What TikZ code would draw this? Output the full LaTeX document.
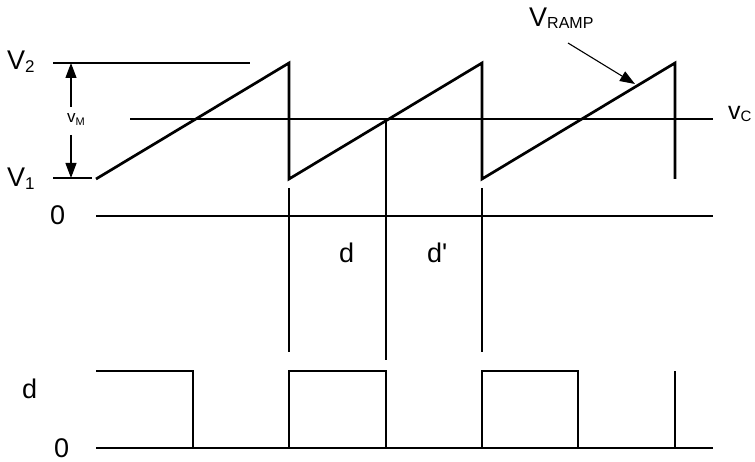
\documentclass[tikz,border=0pt]{standalone}
\usepackage{fontspec}
\setmainfont{Liberation Sans}[Ligatures=TeXOff]
\usetikzlibrary{arrows.meta}
\tikzset{
  thinln/.style={line width=1.1pt, black},
  wave/.style={line width=2.7pt, black, line join=miter, line cap=butt},
  dimarrow/.style={line width=1.1pt, -{Triangle[length=15pt,width=11pt]}},
  biglbl/.style={anchor=base west, inner sep=0pt, font=\fontsize{27}{30}\selectfont},
}
\newcommand{\subtxt}[3]{\raisebox{-#2pt}{\fontsize{#1}{#1}\selectfont #3}}
\begin{document}
\begin{tikzpicture}[x=1pt,y=-1pt]
\useasboundingbox (0,0) rectangle (755,462);
% reference levels
\coordinate (v2a) at (53,63);  \coordinate (v2b) at (250,63);
\coordinate (v1a) at (53,178); \coordinate (v1b) at (92,178);
\coordinate (vca) at (130,119); \coordinate (vcb) at (713,119);
\coordinate (z1a) at (96,216);  \coordinate (z1b) at (713,216);
\coordinate (z2a) at (96,448);  \coordinate (z2b) at (713,448);
\draw[thinln] (v2a) -- (v2b);
\draw[thinln] (v1a) -- (v1b);
\draw[thinln] (vca) -- (vcb);
\draw[thinln] (z1a) -- (z1b);
\draw[thinln] (z2a) -- (z2b);
% ramp
\draw[wave] (96,179) -- (289,63) -- (289,179) -- (482,63) -- (482,179) -- (675,63) -- (675,179);
% timing lines
\coordinate (t1a) at (289,188); \coordinate (t1b) at (289,352);
\coordinate (t2a) at (386,119); \coordinate (t2b) at (386,360);
\coordinate (t3a) at (482,188); \coordinate (t3b) at (482,352);
\draw[thinln] (t1a) -- (t1b);
\draw[thinln] (t2a) -- (t2b);
\draw[thinln] (t3a) -- (t3b);
% square wave
\draw[wave] (96,371) -- (193,371) -- (193,448) -- (289,448) -- (289,371) -- (386,371) -- (386,448) -- (482,448) -- (482,371) -- (578,371) -- (578,448) -- (675,448) -- (675,371);
% labels
\node[biglbl] (lv2) at (7,70) {V\subtxt{17}{3}{2}};
\node[biglbl] (lv1) at (7,187) {V\subtxt{17}{3}{1}};
\node[biglbl] (l0a) at (50,225) {0};
\node[biglbl] (l0b) at (54,457) {0};
\node[biglbl] (ld) at (22,398) {d};
\node[biglbl] (ldm) at (339,263) {d};
\node[biglbl] (ldp) at (427,263) {d'};
\node[biglbl] (lramp) at (529,27) {V\subtxt{16}{2}{RAMP}};
\node[anchor=base west, inner sep=0pt, font=\fontsize{25}{28}\selectfont] (lvc) at (728,120) {v\subtxt{15}{2}{C}};
\node[anchor=base west, inner sep=0pt, font=\fontsize{17}{19}\selectfont] (lvm) at (67,123) {v\subtxt{11}{3}{M}};
% dimension arrows
\coordinate (vmu) at (71,107); \coordinate (vmd) at (71,135);
\coordinate (vmtop) at (71,63); \coordinate (vmbot) at (71,178);
\draw[dimarrow] (vmu) -- (vmtop);
\draw[dimarrow] (vmd) -- (vmbot);
\coordinate (ra) at (568,43); \coordinate (rb) at (635,84);
\draw[dimarrow] (ra) -- (rb);
\end{tikzpicture}
\end{document}
